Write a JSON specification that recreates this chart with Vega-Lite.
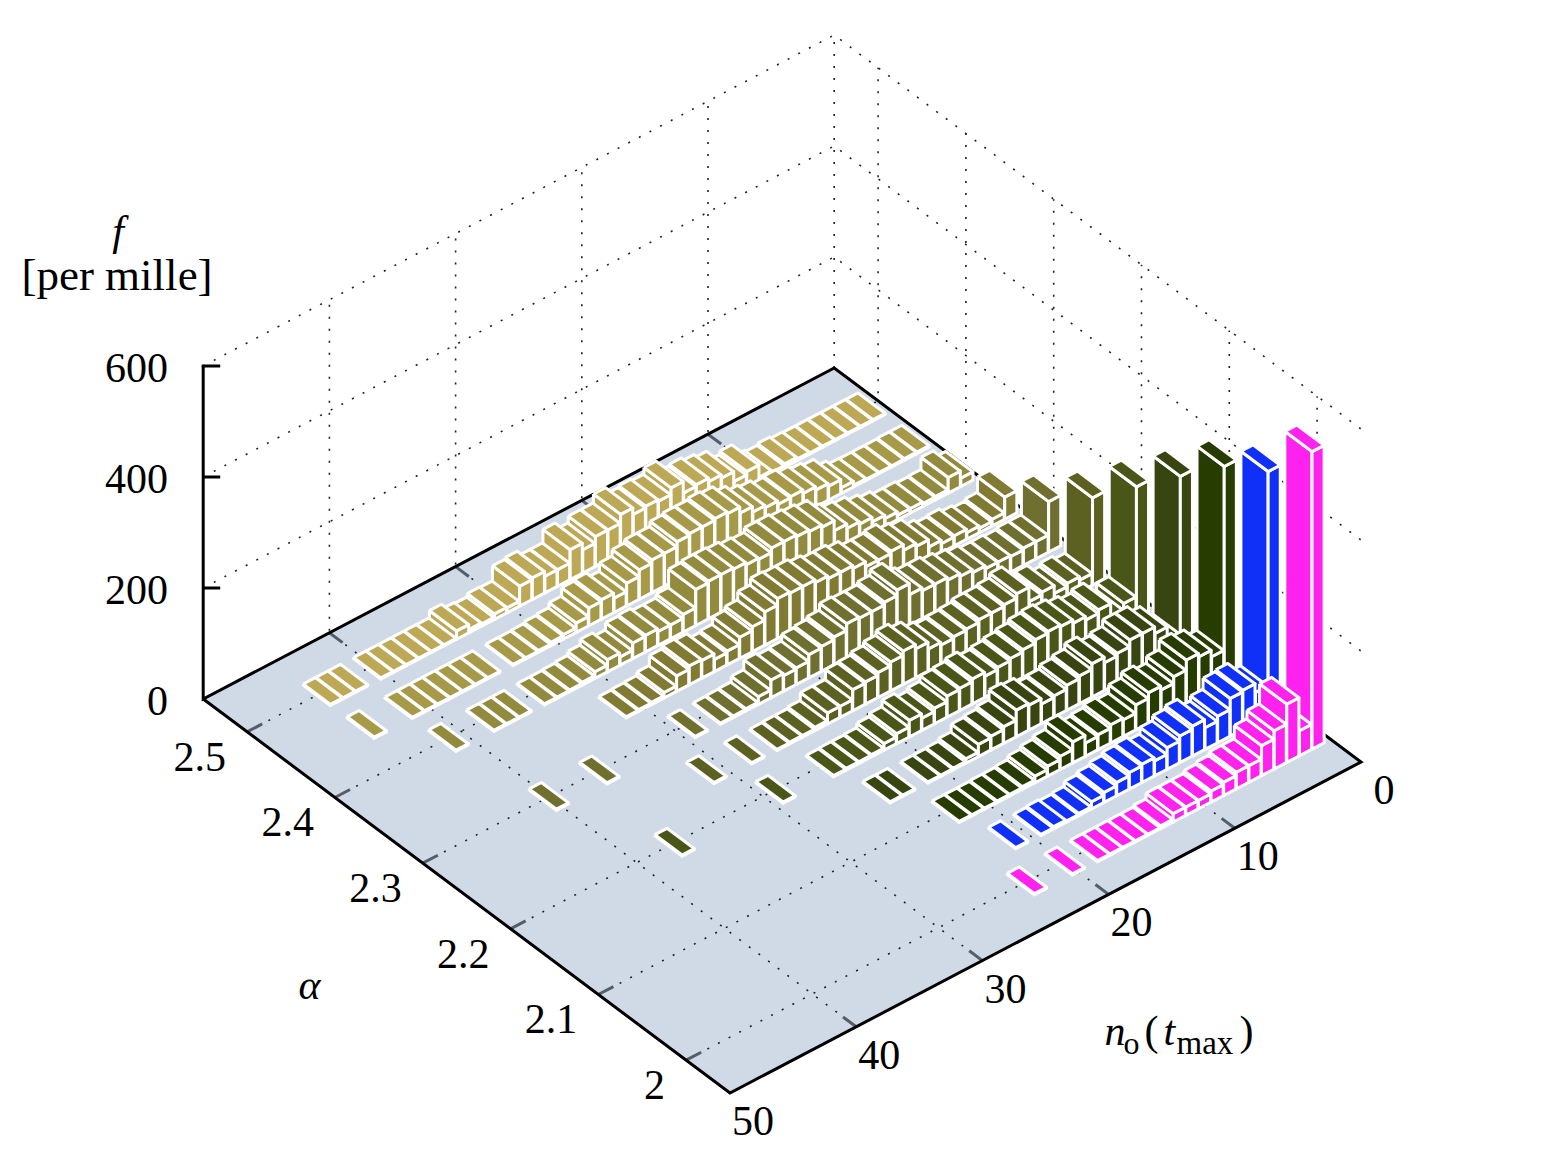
{"$schema":"https://vega.github.io/schema/vega-lite/v6.json","autosize":{"type":"fit","contains":"padding"},"width":1562,"height":1171,"padding":0,"background":"white","config":{"view":{"stroke":null},"text":{"font":"Liberation Serif","fontSize":42,"fill":"black"}},
"datasets":{
"floor":[{"o":0,"a":2.55,"n":50},{"o":1,"a":1.95,"n":50},{"o":2,"a":1.95,"n":0},{"o":3,"a":2.55,"n":0},{"o":4,"a":2.55,"n":50}],
"grid":[
{"id":"a2.5","o":0,"a":2.5,"n":50,"z":0},{"id":"a2.5","o":1,"a":2.5,"n":0,"z":0},{"id":"a2.5","o":2,"a":2.5,"n":0,"z":600},
{"id":"a2.4","o":0,"a":2.4,"n":50,"z":0},{"id":"a2.4","o":1,"a":2.4,"n":0,"z":0},{"id":"a2.4","o":2,"a":2.4,"n":0,"z":600},
{"id":"a2.3","o":0,"a":2.3,"n":50,"z":0},{"id":"a2.3","o":1,"a":2.3,"n":0,"z":0},{"id":"a2.3","o":2,"a":2.3,"n":0,"z":600},
{"id":"a2.2","o":0,"a":2.2,"n":50,"z":0},{"id":"a2.2","o":1,"a":2.2,"n":0,"z":0},{"id":"a2.2","o":2,"a":2.2,"n":0,"z":600},
{"id":"a2.1","o":0,"a":2.1,"n":50,"z":0},{"id":"a2.1","o":1,"a":2.1,"n":0,"z":0},{"id":"a2.1","o":2,"a":2.1,"n":0,"z":600},
{"id":"a2.0","o":0,"a":2.0,"n":50,"z":0},{"id":"a2.0","o":1,"a":2.0,"n":0,"z":0},{"id":"a2.0","o":2,"a":2.0,"n":0,"z":600},
{"id":"n10","o":0,"a":1.95,"n":10,"z":0},{"id":"n10","o":1,"a":2.55,"n":10,"z":0},{"id":"n10","o":2,"a":2.55,"n":10,"z":600},
{"id":"n20","o":0,"a":1.95,"n":20,"z":0},{"id":"n20","o":1,"a":2.55,"n":20,"z":0},{"id":"n20","o":2,"a":2.55,"n":20,"z":600},
{"id":"n30","o":0,"a":1.95,"n":30,"z":0},{"id":"n30","o":1,"a":2.55,"n":30,"z":0},{"id":"n30","o":2,"a":2.55,"n":30,"z":600},
{"id":"n40","o":0,"a":1.95,"n":40,"z":0},{"id":"n40","o":1,"a":2.55,"n":40,"z":0},{"id":"n40","o":2,"a":2.55,"n":40,"z":600},
{"id":"n0","o":0,"a":2.55,"n":0,"z":0},{"id":"n0","o":1,"a":2.55,"n":0,"z":600},
{"id":"z200","o":0,"a":2.55,"n":50,"z":200},{"id":"z200","o":1,"a":2.55,"n":0,"z":200},{"id":"z200","o":2,"a":1.95,"n":0,"z":200},
{"id":"z400","o":0,"a":2.55,"n":50,"z":400},{"id":"z400","o":1,"a":2.55,"n":0,"z":400},{"id":"z400","o":2,"a":1.95,"n":0,"z":400},
{"id":"z600","o":0,"a":2.55,"n":50,"z":600},{"id":"z600","o":1,"a":2.55,"n":0,"z":600},{"id":"z600","o":2,"a":1.95,"n":0,"z":600}],
"ticks":[
{"id":"t1","o":0,"a":2.5,"n":50},{"id":"t1","o":1,"a":2.5,"n":48.8},{"id":"t2","o":0,"a":2.4,"n":50},{"id":"t2","o":1,"a":2.4,"n":48.8},{"id":"t3","o":0,"a":2.3,"n":50},{"id":"t3","o":1,"a":2.3,"n":48.8},{"id":"t4","o":0,"a":2.2,"n":50},{"id":"t4","o":1,"a":2.2,"n":48.8},{"id":"t5","o":0,"a":2.1,"n":50},{"id":"t5","o":1,"a":2.1,"n":48.8},{"id":"t6","o":0,"a":2.0,"n":50},{"id":"t6","o":1,"a":2.0,"n":48.8},
{"id":"u1","o":0,"a":1.95,"n":10},{"id":"u1","o":1,"a":1.965,"n":10},{"id":"u2","o":0,"a":1.95,"n":20},{"id":"u2","o":1,"a":1.965,"n":20},{"id":"u3","o":0,"a":1.95,"n":30},{"id":"u3","o":1,"a":1.965,"n":30},{"id":"u4","o":0,"a":1.95,"n":40},{"id":"u4","o":1,"a":1.965,"n":40},
{"id":"v1","o":0,"a":2.55,"n":10},{"id":"v1","o":1,"a":2.535,"n":10},{"id":"v2","o":0,"a":2.55,"n":20},{"id":"v2","o":1,"a":2.535,"n":20},{"id":"v3","o":0,"a":2.55,"n":30},{"id":"v3","o":1,"a":2.535,"n":30},{"id":"v4","o":0,"a":2.55,"n":40},{"id":"v4","o":1,"a":2.535,"n":40}],
"axes":[
{"id":"edge","o":0,"a":2.55,"n":50,"z":0},{"id":"edge","o":1,"a":1.95,"n":50,"z":0},{"id":"edge","o":2,"a":1.95,"n":0,"z":0},{"id":"edge","o":3,"a":2.55,"n":0,"z":0},{"id":"edge","o":4,"a":2.55,"n":50,"z":0},{"id":"edge","o":5,"a":2.55,"n":50,"z":600}],
"ztick":[{"id":"a","o":0,"z":200,"d":0},{"id":"a","o":1,"z":200,"d":17},{"id":"b","o":0,"z":400,"d":0},{"id":"b","o":1,"z":400,"d":17},{"id":"c","o":0,"z":600,"d":-1.5},{"id":"c","o":1,"z":600,"d":17}],
"zlab":[{"z":0,"t":"0"},{"z":200,"t":"200"},{"z":400,"t":"400"},{"z":600,"t":"600"}],
"alab":[{"a":2.5,"t":"2.5"},{"a":2.4,"t":"2.4"},{"a":2.3,"t":"2.3"},{"a":2.2,"t":"2.2"},{"a":2.1,"t":"2.1"},{"a":2.0,"t":"2"}],
"nlab":[{"n":0,"t":"0"},{"n":10,"t":"10"},{"n":20,"t":"20"},{"n":30,"t":"30"},{"n":40,"t":"40"},{"n":50,"t":"50"}],
"bars":[
{"a":2.5,"n":1,"f":2},{"a":2.5,"n":2,"f":2},{"a":2.5,"n":3,"f":2},{"a":2.5,"n":4,"f":2},{"a":2.5,"n":5,"f":2},{"a":2.5,"n":6,"f":2},{"a":2.5,"n":7,"f":3},{"a":2.5,"n":8,"f":6},{"a":2.5,"n":9,"f":3},{"a":2.5,"n":10,"f":6},{"a":2.5,"n":11,"f":28},{"a":2.5,"n":12,"f":22},{"a":2.5,"n":13,"f":40},{"a":2.5,"n":14,"f":46},{"a":2.5,"n":15,"f":52},{"a":2.5,"n":16,"f":49},{"a":2.5,"n":17,"f":70},{"a":2.5,"n":18,"f":58},{"a":2.5,"n":19,"f":61},{"a":2.5,"n":20,"f":58},{"a":2.5,"n":21,"f":70},{"a":2.5,"n":22,"f":54},{"a":2.5,"n":23,"f":54},{"a":2.5,"n":24,"f":42},{"a":2.5,"n":25,"f":54},{"a":2.5,"n":26,"f":30},{"a":2.5,"n":27,"f":30},{"a":2.5,"n":28,"f":39},{"a":2.5,"n":29,"f":36},{"a":2.5,"n":30,"f":9},{"a":2.5,"n":31,"f":10},{"a":2.5,"n":32,"f":4},{"a":2.5,"n":33,"f":6},{"a":2.5,"n":34,"f":15},{"a":2.5,"n":35,"f":2},{"a":2.5,"n":36,"f":2},{"a":2.5,"n":37,"f":2},{"a":2.5,"n":38,"f":2},{"a":2.5,"n":39,"f":2},{"a":2.5,"n":40,"f":2},{"a":2.5,"n":42,"f":2},{"a":2.5,"n":43,"f":2},{"a":2.5,"n":44,"f":2},
{"a":2.45,"n":1,"f":3},{"a":2.45,"n":2,"f":3},{"a":2.45,"n":3,"f":2},{"a":2.45,"n":4,"f":2},{"a":2.45,"n":5,"f":2},{"a":2.45,"n":6,"f":3},{"a":2.45,"n":7,"f":10},{"a":2.45,"n":8,"f":25},{"a":2.45,"n":9,"f":30},{"a":2.45,"n":10,"f":36},{"a":2.45,"n":11,"f":42},{"a":2.45,"n":12,"f":40},{"a":2.45,"n":13,"f":46},{"a":2.45,"n":14,"f":50},{"a":2.45,"n":15,"f":60},{"a":2.45,"n":16,"f":71},{"a":2.45,"n":17,"f":74},{"a":2.45,"n":18,"f":71},{"a":2.45,"n":19,"f":71},{"a":2.45,"n":20,"f":68},{"a":2.45,"n":21,"f":59},{"a":2.45,"n":22,"f":59},{"a":2.45,"n":23,"f":53},{"a":2.45,"n":24,"f":41},{"a":2.45,"n":25,"f":26},{"a":2.45,"n":26,"f":35},{"a":2.45,"n":27,"f":32},{"a":2.45,"n":28,"f":17},{"a":2.45,"n":29,"f":8},{"a":2.45,"n":30,"f":6},{"a":2.45,"n":31,"f":3},{"a":2.45,"n":32,"f":2},{"a":2.45,"n":33,"f":2},{"a":2.45,"n":35,"f":2},{"a":2.45,"n":36,"f":2},{"a":2.45,"n":37,"f":2},{"a":2.45,"n":38,"f":2},{"a":2.45,"n":39,"f":2},{"a":2.45,"n":40,"f":2},{"a":2.45,"n":41,"f":2},{"a":2.45,"n":44,"f":2},
{"a":2.4,"n":1,"f":15},{"a":2.4,"n":2,"f":28},{"a":2.4,"n":3,"f":6},{"a":2.4,"n":4,"f":5},{"a":2.4,"n":5,"f":8},{"a":2.4,"n":6,"f":8},{"a":2.4,"n":7,"f":14},{"a":2.4,"n":8,"f":20},{"a":2.4,"n":9,"f":28},{"a":2.4,"n":10,"f":32},{"a":2.4,"n":11,"f":40},{"a":2.4,"n":12,"f":58},{"a":2.4,"n":13,"f":62},{"a":2.4,"n":14,"f":65},{"a":2.4,"n":15,"f":68},{"a":2.4,"n":16,"f":68},{"a":2.4,"n":17,"f":60},{"a":2.4,"n":18,"f":62},{"a":2.4,"n":19,"f":66},{"a":2.4,"n":20,"f":68},{"a":2.4,"n":21,"f":68},{"a":2.4,"n":22,"f":65},{"a":2.4,"n":23,"f":32},{"a":2.4,"n":24,"f":25},{"a":2.4,"n":25,"f":25},{"a":2.4,"n":26,"f":30},{"a":2.4,"n":27,"f":28},{"a":2.4,"n":28,"f":15},{"a":2.4,"n":29,"f":22},{"a":2.4,"n":30,"f":12},{"a":2.4,"n":31,"f":5},{"a":2.4,"n":32,"f":3},{"a":2.4,"n":33,"f":2},{"a":2.4,"n":34,"f":2},{"a":2.4,"n":36,"f":2},{"a":2.4,"n":37,"f":2},{"a":2.4,"n":38,"f":2},{"a":2.4,"n":41,"f":2},
{"a":2.35,"n":1,"f":40},{"a":2.35,"n":2,"f":12},{"a":2.35,"n":3,"f":8},{"a":2.35,"n":4,"f":12},{"a":2.35,"n":5,"f":18},{"a":2.35,"n":6,"f":16},{"a":2.35,"n":7,"f":22},{"a":2.35,"n":8,"f":35},{"a":2.35,"n":9,"f":40},{"a":2.35,"n":10,"f":50},{"a":2.35,"n":11,"f":46},{"a":2.35,"n":12,"f":46},{"a":2.35,"n":13,"f":55},{"a":2.35,"n":14,"f":60},{"a":2.35,"n":15,"f":60},{"a":2.35,"n":16,"f":65},{"a":2.35,"n":17,"f":70},{"a":2.35,"n":18,"f":70},{"a":2.35,"n":19,"f":72},{"a":2.35,"n":20,"f":60},{"a":2.35,"n":21,"f":45},{"a":2.35,"n":22,"f":38},{"a":2.35,"n":23,"f":25},{"a":2.35,"n":24,"f":22},{"a":2.35,"n":25,"f":32},{"a":2.35,"n":26,"f":34},{"a":2.35,"n":27,"f":28},{"a":2.35,"n":28,"f":10},{"a":2.35,"n":29,"f":4},{"a":2.35,"n":30,"f":3},{"a":2.35,"n":31,"f":2},
{"a":2.3,"n":1,"f":91},{"a":2.3,"n":2,"f":31},{"a":2.3,"n":3,"f":31},{"a":2.3,"n":4,"f":28},{"a":2.3,"n":5,"f":30},{"a":2.3,"n":6,"f":30},{"a":2.3,"n":7,"f":35},{"a":2.3,"n":8,"f":40},{"a":2.3,"n":9,"f":45},{"a":2.3,"n":10,"f":50},{"a":2.3,"n":11,"f":50},{"a":2.3,"n":12,"f":55},{"a":2.3,"n":13,"f":75},{"a":2.3,"n":14,"f":65},{"a":2.3,"n":15,"f":60},{"a":2.3,"n":16,"f":60},{"a":2.3,"n":17,"f":62},{"a":2.3,"n":18,"f":50},{"a":2.3,"n":19,"f":45},{"a":2.3,"n":20,"f":42},{"a":2.3,"n":21,"f":30},{"a":2.3,"n":22,"f":28},{"a":2.3,"n":23,"f":32},{"a":2.3,"n":24,"f":14},{"a":2.3,"n":25,"f":4},{"a":2.3,"n":26,"f":3},{"a":2.3,"n":27,"f":2},{"a":2.3,"n":29,"f":2},{"a":2.3,"n":36,"f":2},{"a":2.3,"n":40,"f":2},
{"a":2.25,"n":1,"f":157},{"a":2.25,"n":2,"f":21},{"a":2.25,"n":3,"f":27},{"a":2.25,"n":4,"f":21},{"a":2.25,"n":5,"f":35},{"a":2.25,"n":6,"f":30},{"a":2.25,"n":7,"f":56},{"a":2.25,"n":8,"f":48},{"a":2.25,"n":9,"f":45},{"a":2.25,"n":10,"f":45},{"a":2.25,"n":11,"f":40},{"a":2.25,"n":12,"f":38},{"a":2.25,"n":13,"f":35},{"a":2.25,"n":14,"f":40},{"a":2.25,"n":15,"f":52},{"a":2.25,"n":16,"f":60},{"a":2.25,"n":17,"f":52},{"a":2.25,"n":18,"f":45},{"a":2.25,"n":19,"f":40},{"a":2.25,"n":20,"f":38},{"a":2.25,"n":21,"f":20},{"a":2.25,"n":22,"f":20},{"a":2.25,"n":23,"f":6},{"a":2.25,"n":24,"f":3},{"a":2.25,"n":25,"f":3},{"a":2.25,"n":26,"f":2},{"a":2.25,"n":28,"f":2},{"a":2.25,"n":31,"f":2},
{"a":2.2,"n":1,"f":236},{"a":2.2,"n":2,"f":38},{"a":2.2,"n":3,"f":26},{"a":2.2,"n":4,"f":50},{"a":2.2,"n":5,"f":44},{"a":2.2,"n":6,"f":50},{"a":2.2,"n":7,"f":56},{"a":2.2,"n":8,"f":59},{"a":2.2,"n":9,"f":56},{"a":2.2,"n":10,"f":50},{"a":2.2,"n":11,"f":46},{"a":2.2,"n":12,"f":42},{"a":2.2,"n":13,"f":38},{"a":2.2,"n":14,"f":45},{"a":2.2,"n":15,"f":40},{"a":2.2,"n":16,"f":38},{"a":2.2,"n":17,"f":28},{"a":2.2,"n":18,"f":22},{"a":2.2,"n":19,"f":30},{"a":2.2,"n":20,"f":18},{"a":2.2,"n":21,"f":12},{"a":2.2,"n":22,"f":4},{"a":2.2,"n":23,"f":3},{"a":2.2,"n":24,"f":3},{"a":2.2,"n":25,"f":2},{"a":2.2,"n":29,"f":2},{"a":2.2,"n":37,"f":2},
{"a":2.15,"n":1,"f":314},{"a":2.15,"n":2,"f":30},{"a":2.15,"n":3,"f":55},{"a":2.15,"n":4,"f":67},{"a":2.15,"n":5,"f":67},{"a":2.15,"n":6,"f":55},{"a":2.15,"n":7,"f":50},{"a":2.15,"n":8,"f":60},{"a":2.15,"n":9,"f":50},{"a":2.15,"n":10,"f":45},{"a":2.15,"n":11,"f":38},{"a":2.15,"n":12,"f":35},{"a":2.15,"n":13,"f":45},{"a":2.15,"n":14,"f":48},{"a":2.15,"n":15,"f":30},{"a":2.15,"n":16,"f":25},{"a":2.15,"n":17,"f":22},{"a":2.15,"n":18,"f":8},{"a":2.15,"n":19,"f":3},{"a":2.15,"n":20,"f":2},{"a":2.15,"n":21,"f":2},{"a":2.15,"n":23,"f":2},{"a":2.15,"n":24,"f":2},
{"a":2.1,"n":1,"f":391},{"a":2.1,"n":2,"f":60},{"a":2.1,"n":3,"f":72},{"a":2.1,"n":4,"f":78},{"a":2.1,"n":5,"f":60},{"a":2.1,"n":6,"f":48},{"a":2.1,"n":7,"f":55},{"a":2.1,"n":8,"f":45},{"a":2.1,"n":9,"f":30},{"a":2.1,"n":10,"f":33},{"a":2.1,"n":11,"f":27},{"a":2.1,"n":12,"f":24},{"a":2.1,"n":13,"f":38},{"a":2.1,"n":14,"f":24},{"a":2.1,"n":15,"f":18},{"a":2.1,"n":16,"f":12},{"a":2.1,"n":17,"f":5},{"a":2.1,"n":18,"f":3},{"a":2.1,"n":19,"f":3},{"a":2.1,"n":20,"f":2},{"a":2.1,"n":21,"f":2},{"a":2.1,"n":22,"f":2},
{"a":2.05,"n":1,"f":441},{"a":2.05,"n":2,"f":55},{"a":2.05,"n":3,"f":71},{"a":2.05,"n":4,"f":68},{"a":2.05,"n":5,"f":48},{"a":2.05,"n":6,"f":39},{"a":2.05,"n":7,"f":54},{"a":2.05,"n":8,"f":48},{"a":2.05,"n":9,"f":39},{"a":2.05,"n":10,"f":27},{"a":2.05,"n":11,"f":33},{"a":2.05,"n":12,"f":30},{"a":2.05,"n":13,"f":24},{"a":2.05,"n":14,"f":18},{"a":2.05,"n":15,"f":13},{"a":2.05,"n":16,"f":4},{"a":2.05,"n":17,"f":2},{"a":2.05,"n":18,"f":4},{"a":2.05,"n":19,"f":2},{"a":2.05,"n":21,"f":2},
{"a":2.0,"n":1,"f":536},{"a":2.0,"n":2,"f":45},{"a":2.0,"n":3,"f":105},{"a":2.0,"n":4,"f":69},{"a":2.0,"n":5,"f":54},{"a":2.0,"n":6,"f":30},{"a":2.0,"n":7,"f":30},{"a":2.0,"n":8,"f":24},{"a":2.0,"n":9,"f":20},{"a":2.0,"n":10,"f":15},{"a":2.0,"n":11,"f":15},{"a":2.0,"n":12,"f":15},{"a":2.0,"n":13,"f":5},{"a":2.0,"n":14,"f":2},{"a":2.0,"n":15,"f":2},{"a":2.0,"n":16,"f":2},{"a":2.0,"n":17,"f":2},{"a":2.0,"n":18,"f":2},{"a":2.0,"n":20,"f":2},{"a":2.0,"n":23,"f":2}]
},
"encoding":{"x":{"field":"px","type":"quantitative","scale":{"domain":[0,1562],"nice":false,"zero":false},"axis":null},"y":{"field":"py","type":"quantitative","scale":{"domain":[1171,0],"nice":false,"zero":false},"axis":null}},
"layer":[
{"data":{"name":"floor"},"transform":[{"calculate":"1361-12.62*datum.n-878*(datum.a-1.95)","as":"px"},{"calculate":"762+6.62*datum.n-656.7*(datum.a-1.95)","as":"py"}],"mark":{"type":"line","fill":"#d0dae6","stroke":null,"strokeWidth":0},"encoding":{"order":{"field":"o"}}},
{"data":{"name":"grid"},"transform":[{"calculate":"1361-12.62*datum.n-878*(datum.a-1.95)","as":"px"},{"calculate":"762+6.62*datum.n-656.7*(datum.a-1.95)-0.555*datum.z","as":"py"}],"mark":{"type":"line","stroke":"#222","strokeWidth":1.6,"strokeDash":[2,10]},"encoding":{"detail":{"field":"id"},"order":{"field":"o"}}},
{"data":{"name":"ticks"},"transform":[{"calculate":"1361-12.62*datum.n-878*(datum.a-1.95)","as":"px"},{"calculate":"762+6.62*datum.n-656.7*(datum.a-1.95)","as":"py"}],"mark":{"type":"line","stroke":"#555e68","strokeWidth":3},"encoding":{"detail":{"field":"id"},"order":{"field":"o"}}},
{"data":{"name":"axes"},"transform":[{"calculate":"1361-12.62*datum.n-878*(datum.a-1.95)","as":"px"},{"calculate":"762+6.62*datum.n-656.7*(datum.a-1.95)-0.555*datum.z","as":"py"}],"mark":{"type":"line","stroke":"black","strokeWidth":3,"strokeJoin":"miter"},"encoding":{"detail":{"field":"id"},"order":{"field":"o"}}},
{"data":{"name":"ztick"},"transform":[{"calculate":"1361-631-878*0.6+datum.d","as":"px"},{"calculate":"762+331-394-0.555*datum.z","as":"py"}],"mark":{"type":"line","stroke":"black","strokeWidth":3},"encoding":{"detail":{"field":"id"},"order":{"field":"o"}}},
{"data":{"name":"bars"},"transform":[
{"calculate":"[0,1,2,3,4,5,6,7,8,9,10,11,12,13,14]","as":"v"},{"flatten":["v"]},
{"calculate":"[1,-1,-1,1,1,-1,-1,-1,-1,-1,1,-1,-1,1,1][datum.v]","as":"sa"},
{"calculate":"[1,1,1,1,1,1,-1,-1,1,1,1,1,-1,-1,1][datum.v]","as":"sn"},
{"calculate":"[1,1,0,0,1,1,1,0,0,1,1,1,1,1,1][datum.v]","as":"sz"},
{"calculate":"datum.a+'_'+datum.n+'_'+floor(datum.v/5)","as":"id"},
{"calculate":"1361-12.62*(datum.n+datum.sn*0.48)-878*(datum.a+datum.sa*0.0155-1.95)","as":"px"},
{"calculate":"762+6.62*(datum.n+datum.sn*0.48)-656.7*(datum.a+datum.sa*0.0155-1.95)-0.555*datum.sz*datum.f","as":"py"}],
"mark":{"type":"line","stroke":"white","strokeWidth":3,"strokeJoin":"round"},
"encoding":{"detail":{"field":"id"},"order":{"field":"v"},"fill":{"field":"a","type":"nominal","legend":null,"scale":{"domain":[2.0,2.05,2.1,2.15,2.2,2.25,2.3,2.35,2.4,2.45,2.5],"range":["#ff22ee","#1030f8","#263c00","#384510","#4a5518","#5c6122","#6f7030","#807a33","#928b3e","#a69a48","#bda855"]}}}},
{"data":{"name":"zlab"},"transform":[{"calculate":"203","as":"px"},{"calculate":"699-0.555*datum.z","as":"py"}],"mark":{"type":"text","align":"right","baseline":"middle","dx":-35,"dy":3},"encoding":{"text":{"field":"t"}}},
{"data":{"name":"alab"},"transform":[{"calculate":"730-878*(datum.a-1.95)","as":"px"},{"calculate":"1093-656.7*(datum.a-1.95)","as":"py"}],"mark":{"type":"text","align":"right","baseline":"middle","dx":-21,"dy":26},"encoding":{"text":{"field":"t"}}},
{"data":{"name":"nlab"},"transform":[{"calculate":"1361-12.62*datum.n","as":"px"},{"calculate":"762+6.62*datum.n","as":"py"}],"mark":{"type":"text","align":"center","baseline":"middle","dx":23,"dy":29},"encoding":{"text":{"field":"t"}}},
{"data":{"values":[{"t":"α","a":2.25,"n":50}]},"transform":[{"calculate":"1361-12.62*datum.n-878*(datum.a-1.95)","as":"px"},{"calculate":"762+6.62*datum.n-656.7*(datum.a-1.95)","as":"py"}],"mark":{"type":"text","align":"center","baseline":"middle","fontStyle":"italic","dx":-157,"dy":90},"encoding":{"text":{"field":"t"}}},
{"data":{"values":[{"t":"f","z":600}]},"transform":[{"calculate":"203","as":"px"},{"calculate":"699-0.555*datum.z","as":"py"}],"mark":{"type":"text","align":"center","baseline":"middle","fontStyle":"italic","dx":-85,"dy":-134},"encoding":{"text":{"field":"t"}}},
{"data":{"values":[{"t":"[per mille]","z":600}]},"transform":[{"calculate":"203","as":"px"},{"calculate":"699-0.555*datum.z","as":"py"}],"mark":{"type":"text","align":"center","baseline":"middle","fontSize":45,"dx":-86,"dy":-90},"encoding":{"text":{"field":"t"}}},
{"data":{"values":[{"t":"n","n":25}]},"transform":[{"calculate":"1361-12.62*datum.n","as":"px"},{"calculate":"762+6.62*datum.n","as":"py"}],"mark":{"type":"text","align":"left","baseline":"alphabetic","fontStyle":"italic","dx":59,"dy":117},"encoding":{"text":{"field":"t"}}},
{"data":{"values":[{"t":"o","n":25}]},"transform":[{"calculate":"1361-12.62*datum.n","as":"px"},{"calculate":"762+6.62*datum.n","as":"py"}],"mark":{"type":"text","align":"left","baseline":"alphabetic","fontSize":32,"dx":78,"dy":126},"encoding":{"text":{"field":"t"}}},
{"data":{"values":[{"t":"(","n":25}]},"transform":[{"calculate":"1361-12.62*datum.n","as":"px"},{"calculate":"762+6.62*datum.n","as":"py"}],"mark":{"type":"text","align":"left","baseline":"alphabetic","dx":99,"dy":117},"encoding":{"text":{"field":"t"}}},
{"data":{"values":[{"t":"t","n":25}]},"transform":[{"calculate":"1361-12.62*datum.n","as":"px"},{"calculate":"762+6.62*datum.n","as":"py"}],"mark":{"type":"text","align":"left","baseline":"alphabetic","fontStyle":"italic","dx":118,"dy":117},"encoding":{"text":{"field":"t"}}},
{"data":{"values":[{"t":"max","n":25}]},"transform":[{"calculate":"1361-12.62*datum.n","as":"px"},{"calculate":"762+6.62*datum.n","as":"py"}],"mark":{"type":"text","align":"left","baseline":"alphabetic","fontSize":33,"dx":131,"dy":126},"encoding":{"text":{"field":"t"}}},
{"data":{"values":[{"t":")","n":25}]},"transform":[{"calculate":"1361-12.62*datum.n","as":"px"},{"calculate":"762+6.62*datum.n","as":"py"}],"mark":{"type":"text","align":"left","baseline":"alphabetic","dx":194,"dy":117},"encoding":{"text":{"field":"t"}}}
]}
